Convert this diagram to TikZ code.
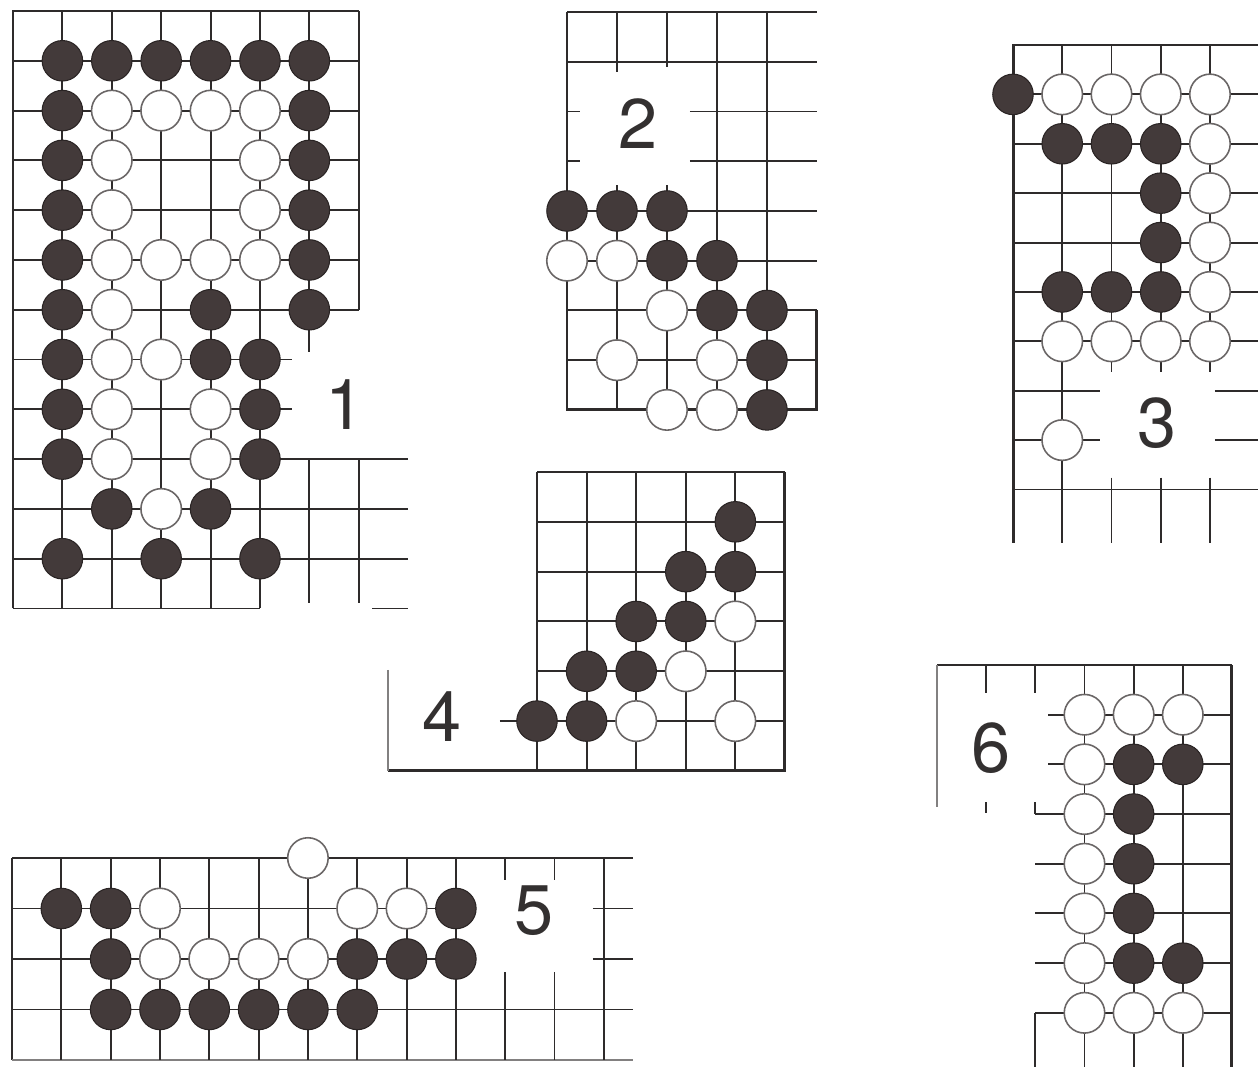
\documentclass[tikz,border=0pt]{standalone}
\usepackage{fontspec}
\setmainfont{TeX Gyre Heros}
\definecolor{linec}{HTML}{2E2B2B}
\definecolor{stoneb}{HTML}{433A3A}
\definecolor{stonebd}{HTML}{2A2424}
\definecolor{stonewd}{HTML}{6A6666}
\definecolor{labelc}{HTML}{333030}
\begin{document}
\begin{tikzpicture}[x=0.02cm,y=-0.02cm,
  grid/.style={line width=1.1pt, draw=linec},
  edge/.style={line width=1.7pt, draw=linec},
  faint/.style={line width=0.9pt, draw=linec!60},
  bstone/.style={circle, fill=stoneb, draw=stonebd, line width=0.6pt, minimum size=0.81cm, inner sep=0pt},
  wstone/.style={circle, fill=white, draw=stonewd, line width=0.9pt, minimum size=0.81cm, inner sep=0pt},
  lbl/.style={font=\fontsize{40}{40}\selectfont, text=labelc, inner sep=0pt}]
\useasboundingbox (0,0) rectangle (1258,1067);
\fill[white] (0,0) rectangle (1258,1067);

% ---------------- Diagram 1 ----------------
\begin{scope}[shift={(13,11)}, x=0.988cm, y=-0.996cm]
  \draw[edge] (0,12) -- (0,0) -- (7,0);
  \foreach \j in {1,...,6} \draw[grid] (0,\j) -- (7,\j);
  \foreach \j in {7,8} \draw[grid] (0,\j) -- (5.65,\j);
  \foreach \j in {9,10,11} \draw[grid] (0,\j) -- (8,\j);
  \draw[grid] (0,12) -- (5,12);
  \draw[grid] (7.27,12) -- (8,12);
  \foreach \i in {1,...,5} \draw[grid] (\i,0) -- (\i,12);
  \draw[grid] (6,0) -- (6,6.85);
  \draw[grid] (6,9) -- (6,11.88);
  \draw[grid] (7,0) -- (7,6);
  \draw[grid] (7,9) -- (7,11.88);
  \foreach \c/\r in {1/1,2/1,3/1,4/1,5/1,6/1,1/2,6/2,1/3,6/3,1/4,6/4,1/5,6/5,
    1/6,4/6,6/6,1/7,4/7,5/7,1/8,5/8,1/9,5/9,2/10,4/10,1/11,3/11,5/11}
    \node[bstone] (a-b-\c-\r) at (\c,\r) {};
  \foreach \c/\r in {2/2,3/2,4/2,5/2,2/3,5/3,2/4,5/4,2/5,3/5,4/5,5/5,2/6,
    2/7,3/7,2/8,4/8,2/9,4/9,3/10}
    \node[wstone] (a-w-\c-\r) at (\c,\r) {};
  \node[lbl] (lab1) at (6.72,7.9) {1};
\end{scope}

% ---------------- Diagram 2 ----------------
\begin{scope}[shift={(567,12)}, x=1.0cm, y=-0.995cm]
  \draw[edge] (0,0) -- (0,8) -- (5,8) -- (5,6);
  \draw[grid] (0,0) -- (5,0);
  \draw[grid] (0,1) -- (5,1);
  \foreach \j in {2,3} {\draw[grid] (0,\j) -- (0.26,\j); \draw[grid] (2.46,\j) -- (5,\j);}
  \foreach \j in {4,...,7} \draw[grid] (0,\j) -- (5,\j);
  \draw[grid] (1,0) -- (1,1.2);
  \draw[grid] (1,3.48) -- (1,8);
  \draw[grid] (2,0) -- (2,1.1);
  \draw[grid] (2,3.48) -- (2,8);
  \foreach \i in {3,4} \draw[grid] (\i,0) -- (\i,8);
  \foreach \c/\r in {0/4,1/4,2/4,2/5,3/5,3/6,4/6,4/7,4/8}
    \node[bstone] (b-b-\c-\r) at (\c,\r) {};
  \foreach \c/\r in {0/5,1/5,2/6,1/7,3/7,2/8,3/8}
    \node[wstone] (b-w-\c-\r) at (\c,\r) {};
  \node[lbl] (lab2) at (1.42,2.25) {2};
\end{scope}

% ---------------- Diagram 3 ----------------
\begin{scope}[shift={(1013,45)}, x=0.985cm, y=-0.988cm]
  \draw[edge] (0,10.08) -- (0,0) -- (4.98,0);
  \foreach \j in {1,...,6} \draw[grid] (0,\j) -- (4.98,\j);
  \foreach \j in {7,8} {\draw[grid] (0,\j) -- (1.77,\j); \draw[grid] (4.1,\j) -- (4.98,\j);}
  \draw[grid] (0,9) -- (4.98,9);
  \draw[grid] (1,0) -- (1,10.08);
  \foreach \i in {2,3,4} {\draw[grid] (\i,0) -- (\i,6.62); \draw[grid] (\i,8.76) -- (\i,10.08);}
  \foreach \c/\r in {0/1,1/2,2/2,3/2,3/3,3/4,1/5,2/5,3/5}
    \node[bstone] (c-b-\c-\r) at (\c,\r) {};
  \foreach \c/\r in {1/1,2/1,3/1,4/1,4/2,4/3,4/4,4/5,1/6,2/6,3/6,4/6,1/8}
    \node[wstone] (c-w-\c-\r) at (\c,\r) {};
  \node[lbl] (lab3) at (2.92,7.65) {3};
\end{scope}

% ---------------- Diagram 4 ----------------
\begin{scope}[shift={(537,472)}, x=0.992cm, y=-0.9966cm]
  \draw[edge] (-3,6) -- (5,6) -- (5,0);
  \draw[grid] (0,0) -- (5,0);
  \draw[faint] (-3,3.97) -- (-3,6);
  \foreach \j in {1,...,4} \draw[grid] (0,\j) -- (5,\j);
  \draw[grid] (-0.75,5) -- (5,5);
  \foreach \i in {0,...,4} \draw[grid] (\i,0) -- (\i,6);
  \foreach \c/\r in {4/1,3/2,4/2,2/3,3/3,1/4,2/4,0/5,1/5}
    \node[bstone] (d-b-\c-\r) at (\c,\r) {};
  \foreach \c/\r in {4/3,3/4,2/5,4/5}
    \node[wstone] (d-w-\c-\r) at (\c,\r) {};
  \node[lbl] (lab4) at (-1.92,4.9) {4};
\end{scope}

% ---------------- Diagram 5 ----------------
\begin{scope}[shift={(12,858)}, x=0.9866cm, y=-1.01cm]
  \draw[edge] (0,0) -- (12.6,0);
  \draw[grid] (0,0) -- (0,4);
  \draw[faint] (0,4) -- (12.6,4);
  \foreach \j in {1,2} {\draw[grid] (0,\j) -- (9,\j); \draw[grid] (11.78,\j) -- (12.6,\j);}
  \draw[grid] (0,3) -- (12.6,3);
  \foreach \i in {1,...,9} \draw[grid] (\i,0) -- (\i,4);
  \foreach \i in {10,11} {\draw[grid] (\i,0) -- (\i,0.44); \draw[grid] (\i,2.26) -- (\i,4);}
  \draw[grid] (12,0) -- (12,4);
  \foreach \c/\r in {1/1,2/1,9/1,2/2,7/2,8/2,9/2,2/3,3/3,4/3,5/3,6/3,7/3}
    \node[bstone] (e-b-\c-\r) at (\c,\r) {};
  \foreach \c/\r in {6/0,3/1,7/1,8/1,3/2,4/2,5/2,6/2}
    \node[wstone] (e-w-\c-\r) at (\c,\r) {};
  \node[lbl] (lab5) at (10.58,1.05) {5};
\end{scope}

% ---------------- Diagram 6 ----------------
\begin{scope}[shift={(937,665)}, x=0.9834cm, y=-0.994cm]
  \draw[edge] (6,0) -- (6,8.1);
  \draw[grid] (0,0) -- (6,0);
  \draw[faint] (0,0) -- (0,2.86);
  \draw[grid] (1,0) -- (1,0.56);
  \draw[grid] (1,2.76) -- (1,2.97);
  \draw[grid] (2,0) -- (2,0.56);
  \draw[grid] (2,2.76) -- (2,3);
  \draw[grid] (2,7) -- (2,8.1);
  \foreach \i in {3,4,5} \draw[grid] (\i,0) -- (\i,8.1);
  \foreach \j in {1,2} \draw[grid] (2.26,\j) -- (6,\j);
  \foreach \j in {3,...,7} \draw[grid] (2,\j) -- (6,\j);
  \foreach \c/\r in {4/2,5/2,4/3,4/4,4/5,4/6,5/6}
    \node[bstone] (f-b-\c-\r) at (\c,\r) {};
  \foreach \c/\r in {3/1,4/1,5/1,3/2,3/3,3/4,3/5,3/6,3/7,4/7,5/7}
    \node[wstone] (f-w-\c-\r) at (\c,\r) {};
  \node[lbl] (lab6) at (1.1,1.67) {6};
\end{scope}
\end{tikzpicture}
\end{document}
